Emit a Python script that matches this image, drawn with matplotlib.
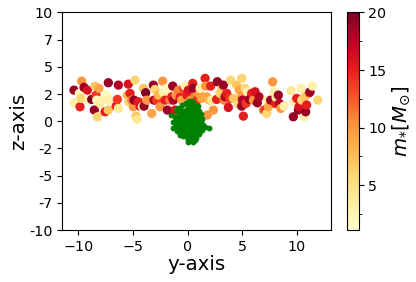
import numpy as np
import matplotlib
matplotlib.use("Agg")
import matplotlib.pyplot as plt
from matplotlib.ticker import MultipleLocator

# stars (y, z, mass)
star_y = [-10.40, -10.40, -9.91, -9.85, -9.70, -9.76, -9.48, -9.18, -9.09, -8.78,
          -8.54, -8.48, -8.38, -8.32, -8.26, -8.11, -8.02, -7.87, -7.56, -7.41,
          -7.26, -7.26, -7.26, -6.55, -6.43, -6.34, -6.34, -5.52, -5.43, -5.40,
          -5.27, -5.12, -4.97, -4.91, -4.82, -4.73, -4.66, -4.51, -4.36, -4.15,
          -3.99, -4.05, -3.84, -3.75, -3.29, -3.14, -3.08, -2.99, -2.84, -2.68,
          -2.53, -2.29, -2.23, -2.07, -1.92, -1.86, -1.62, -1.46, -1.37, -1.31,
          -1.16, -1.07, -0.85, -0.70, -0.55, -0.34, -0.24, -0.09, 0.06, 0.27,
          0.46, 0.52, 0.67, 0.76, 0.88, 1.07, 1.13, 1.28, 1.59, 1.65,
          1.74, 1.80, 1.98, 2.10, 2.20, 2.35, 2.65, 2.71, 2.96, 3.11,
          3.26, 3.32, 3.41, 3.57, 3.72, 3.87, 3.93, 4.18, 4.48, 4.63,
          4.73, 4.94, 4.94, 4.94, 5.00, 5.09, 5.24, 5.34, 5.46, 5.64,
          5.85, 6.01, 6.16, 6.37, 6.52, 6.92, 7.07, 7.23, 7.29, 7.38,
          7.59, 7.77, 7.90, 8.02, 8.08, 8.29, 8.38, 8.51, 8.81, 9.45,
          9.66, 9.73, 9.97, 10.12, 10.18, 10.37, 10.43, 10.64, 10.73, 10.79,
          10.88, 11.13, 11.19, 11.40, 11.89]
star_z = [2.86, 1.70, 2.56, 1.33, 3.69, 2.10, 3.11, 2.86, 1.94, 2.01,
          1.03, 3.23, 2.40, 1.94, 0.41, 3.02, 1.64, 1.94, 0.87, 2.40,
          3.54, 1.94, 1.03, 1.39, 2.01, 3.32, 1.18, 2.40, 3.41, 1.79,
          2.56, 1.94, 1.33, 1.94, 3.78, 0.47, 0.17, 1.79, 1.39, 1.33,
          1.39, 3.02, 2.62, 1.94, 0.72, 3.32, 1.94, 2.92, 1.94, 2.40,
          1.33, 3.69, 2.62, 1.94, 3.02, 1.03, 1.94, 2.25, 3.23, 1.94,
          1.03, 2.40, 2.86, 2.19, 1.94, 3.02, 3.23, 2.40, 2.86, 1.94,
          3.48, 3.02, 2.25, 1.18, 1.94, 2.50, 3.02, 2.10, 3.94, 3.23,
          2.25, 0.57, 1.94, 3.23, 1.94, 1.03, 2.01, 3.63, 2.56, 3.02,
          3.32, 1.94, 2.25, 2.56, 1.27, 2.10, 3.78, 2.10, 3.32, 1.58,
          2.86, 3.94, 2.25, 1.39, 1.94, 0.47, 3.02, 1.64, 2.71, 2.01,
          2.56, 1.94, 2.71, 1.70, 2.25, 1.03, 1.03, 0.72, 1.94, 1.33,
          1.94, 3.63, 2.71, 1.64, 2.19, 2.40, 1.64, 1.18, 1.39, 2.80,
          0.41, 1.79, 2.10, 1.03, 1.33, 3.02, 1.94, 0.41, 2.25, 0.87,
          1.49, 2.62, 2.71, 3.23, 1.94]
star_m = [19, 3, 2, 15, 10, 6, 19, 16, 3, 20,
          19, 7, 14, 2, 6, 9, 4, 3, 15, 2,
          19, 3, 7, 15, 14, 18, 4, 8, 16, 6,
          15, 11, 10, 19, 6, 7, 4, 15, 16, 3,
          19, 7, 20, 10, 9, 19, 18, 6, 14, 8,
          10, 10, 3, 15, 2, 19, 11, 15, 19, 18,
          16, 10, 11, 15, 9, 14, 3, 15, 16, 10,
          15, 19, 11, 9, 14, 10, 3, 9, 15, 10,
          9, 10, 8, 15, 4, 10, 15, 19, 6, 7,
          19, 11, 18, 15, 16, 14, 6, 7, 7, 6,
          9, 6, 10, 19, 18, 15, 6, 14, 3, 19,
          15, 10, 16, 19, 18, 10, 14, 6, 3, 9,
          19, 10, 3, 15, 4, 19, 18, 10, 3, 4,
          19, 3, 15, 19, 16, 3, 6, 3, 7, 19,
          15, 15, 19, 3, 6]

# cluster core (green)
core_y = [0.1, 0.4, -0.2, 0.6, 0.2, -0.5, 0.9, 0.0, 0.5, -0.9, 0.3,
          -1.1, -0.6, -0.2, 0.2, 0.6, 1.0, -0.4, 0.0, 0.4, 0.8, -0.8, 1.2, -0.1, 0.3,
          -1.55, -1.2, -0.8, -0.5, -0.2, 0.1, 0.5, 0.8, 1.1, 1.3, -1.0, -0.6, -0.3,
          0.0, 0.3, 0.6, 0.9, 1.2, -1.3, 0.45, -0.05,
          -1.1, -0.8, -0.5, -0.2, 0.1, 0.4, 0.7, 1.0, 1.4, -1.3, -0.95, -0.6, -0.3,
          0.0, 0.3, 0.6, 0.9, 1.2, 1.6, 1.95,
          -1.0, -0.7, -0.4, -0.1, 0.2, 0.5, 0.8, 1.1, 1.3, -0.75, -0.5, -0.2, 0.1,
          0.4, 0.7, 1.0, 0.25,
          -0.4, -0.1, 0.2, 0.5, 0.8, 0.0, 0.35, 0.65, 0.05, 0.45,
          0.15, 0.55, -0.35, 0.75, 0.25, -0.15, 0.35, 0.95, -0.65, 0.05, 0.6]
core_z = [1.9, 1.85, 1.7, 1.6, 1.55, 1.45, 1.4, 1.35, 1.3, 1.2, 1.2,
          1.0, 1.05, 1.0, 0.95, 1.05, 0.95, 0.8, 0.75, 0.8, 0.7, 0.7, 0.65, 0.6, 0.55,
          0.55, 0.4, 0.35, 0.45, 0.3, 0.4, 0.35, 0.45, 0.4, 0.2, 0.15, 0.1, 0.05,
          0.15, 0.1, 0.05, 0.15, -0.05, -0.05, 0.2, -0.05,
          -0.25, -0.2, -0.3, -0.2, -0.3, -0.2, -0.3, -0.25, -0.35, -0.6, -0.5, -0.55, -0.5,
          -0.55, -0.5, -0.6, -0.5, -0.6, -0.55, -0.6,
          -0.85, -0.8, -0.9, -0.8, -0.85, -0.8, -0.9, -0.85, -0.8, -1.25, -1.1, -1.15, -1.05,
          -1.15, -1.1, -1.2, -1.3,
          -1.4, -1.45, -1.5, -1.45, -1.5, -1.7, -1.75, -1.7, -1.95, -1.95,
          1.1, 1.5, 0.2, -0.1, -0.7, -0.35, 0.65, -0.65, -0.2, 0.25, -1.0]

zticks = np.linspace(-10, 10, 9)

fig = plt.figure(figsize=(4.16, 2.82), dpi=100)
ax = fig.add_axes([0.150, 0.184, 0.645, 0.772])
cax = fig.add_axes([0.834, 0.184, 0.028, 0.772])

sc = ax.scatter(star_y, star_z, c=star_m, cmap="YlOrRd", s=32, vmin=1.1, vmax=20)
ax.scatter(core_y, core_z, c="green", s=10)

ax.set_xlim(-11.46, 13.08)
ax.set_ylim(-10, 10)
ax.set_xticks([-10, -5, 0, 5, 10])
ax.set_yticks(zticks)
ax.set_yticklabels([str(int(t)) for t in zticks])
ax.tick_params(labelsize=10.3)
ax.set_xlabel("y-axis", fontsize=14.2, labelpad=1)
ax.set_ylabel("z-axis", fontsize=14.2, labelpad=1)

cb = fig.colorbar(sc, cax=cax)
cb.set_ticks([5, 10, 15, 20])
cb.ax.yaxis.set_minor_locator(MultipleLocator(2.5))
cb.ax.tick_params(labelsize=10.3)
cb.outline.set_linewidth(0.8)
cb.set_label(r"$m_{*}[M_{\odot}]$", fontsize=14.2, labelpad=3)

fig.savefig("out.png", dpi=100)
